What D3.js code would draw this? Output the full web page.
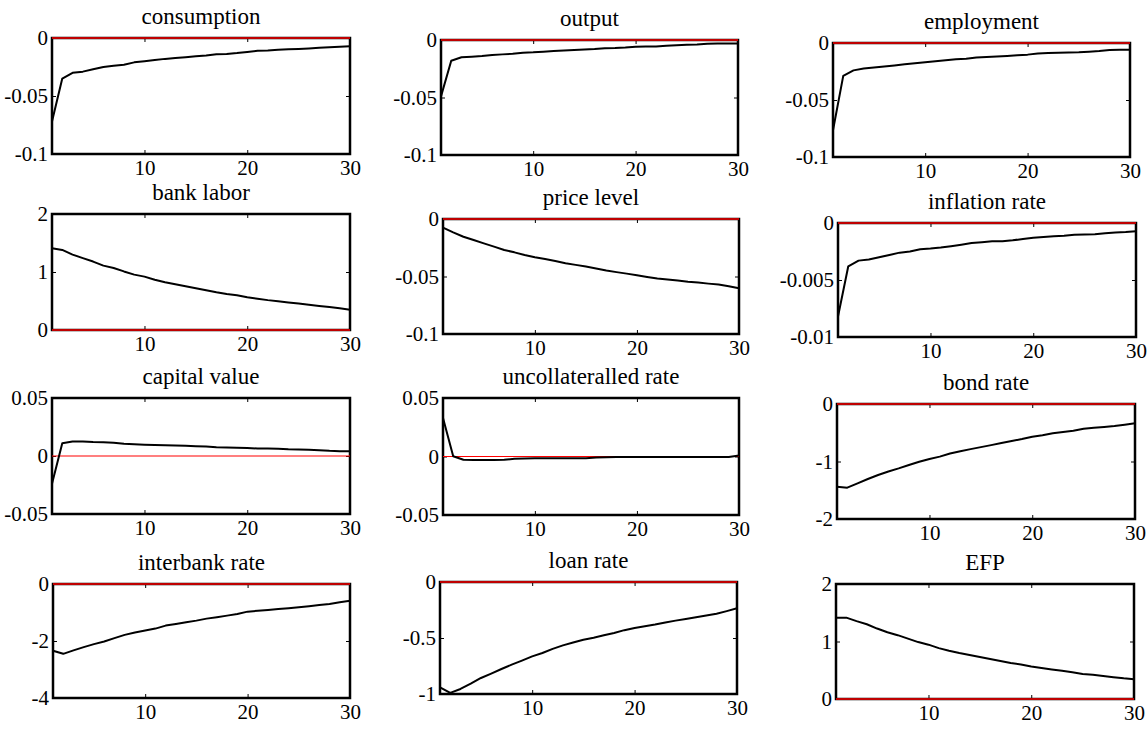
<!DOCTYPE html>
<html>
<head>
<meta charset="utf-8">
<script src="https://cdn.jsdelivr.net/npm/d3@7"></script>
<style>
  html, body { margin: 0; padding: 0; background: #fff; }
  svg { display: block; }
</style>
</head>
<body>
<svg id="chart" width="1148" height="729" font-family="Liberation Serif"></svg>
<script>
// ---------- data ----------
const periods = [1,2,3,4,5,6,7,8,9,10,11,12,13,14,15,16,17,18,19,20,21,22,23,24,25,26,27,28,29,30];
const xTickValues = [10, 20, 30];
const xTickLabels = ["10", "20", "30"];

const titles = ["consumption", "output", "employment", "bank labor", "price level", "inflation rate",
  "capital value", "uncollateralled rate", "bond rate", "interbank rate", "loan rate", "EFP"];

const consumption = [-0.072, -0.035, -0.030, -0.029, -0.027, -0.025, -0.024, -0.023, -0.021, -0.020,
  -0.019, -0.018, -0.0172, -0.0165, -0.0158, -0.015, -0.014, -0.0138, -0.013, -0.012,
  -0.011, -0.0108, -0.0102, -0.0098, -0.0094, -0.009, -0.0085, -0.008, -0.0075, -0.0072];
const output = [-0.049, -0.018, -0.015, -0.0145, -0.014, -0.013, -0.0125, -0.012, -0.011, -0.0107,
  -0.0102, -0.0096, -0.0092, -0.0087, -0.0082, -0.0078, -0.0072, -0.007, -0.0065, -0.0058,
  -0.0057, -0.0056, -0.005, -0.0045, -0.0042, -0.004, -0.0032, -0.0031, -0.003, -0.003];
const employment = [-0.0765, -0.0288, -0.024, -0.0224, -0.0215, -0.0206, -0.0197, -0.0187, -0.0178, -0.0168,
  -0.016, -0.0152, -0.0142, -0.0138, -0.0128, -0.0122, -0.0118, -0.0113, -0.0108, -0.0102,
  -0.0092, -0.0088, -0.0086, -0.0083, -0.0081, -0.0076, -0.007, -0.0062, -0.006, -0.0059];
const bankLabor = [1.41, 1.38, 1.30, 1.24, 1.18, 1.11, 1.07, 1.01, 0.955, 0.92,
  0.865, 0.825, 0.79, 0.755, 0.72, 0.685, 0.65, 0.62, 0.60, 0.565,
  0.54, 0.515, 0.495, 0.475, 0.455, 0.435, 0.415, 0.395, 0.375, 0.35];
const priceLevel = [-0.0075, -0.0116, -0.0154, -0.0183, -0.0212, -0.024, -0.027, -0.029, -0.0313, -0.0333,
  -0.0348, -0.0365, -0.0384, -0.0399, -0.0414, -0.043, -0.0448, -0.0462, -0.0475, -0.049,
  -0.0505, -0.0518, -0.0526, -0.0535, -0.0545, -0.0553, -0.0562, -0.057, -0.0585, -0.0603];
const inflationRate = [-0.0082, -0.0038, -0.0033, -0.0032, -0.003, -0.0028, -0.0026, -0.0025, -0.0023, -0.00224,
  -0.00215, -0.00203, -0.0019, -0.00175, -0.00168, -0.0016, -0.0016, -0.00152, -0.0014, -0.0013,
  -0.00122, -0.00116, -0.00112, -0.00103, -0.001, -0.00098, -0.0009, -0.00084, -0.0008, -0.00073];
const capitalValue = [-0.024, 0.011, 0.0125, 0.0125, 0.012, 0.0118, 0.0115, 0.0105, 0.0102, 0.0098,
  0.0095, 0.0092, 0.009, 0.0088, 0.0085, 0.0082, 0.0075, 0.0074, 0.0072, 0.0068,
  0.0065, 0.0064, 0.0063, 0.0058, 0.0055, 0.0053, 0.005, 0.0045, 0.0042, 0.0042];
const uncollateralledRate = [0.033, 0.0002, -0.0028, -0.0029, -0.0029, -0.0029, -0.0028, -0.002, -0.0017, -0.0016,
  -0.0016, -0.0015, -0.0015, -0.0015, -0.0015, -0.0008, -0.0006, -0.0005, -0.0005, -0.0005,
  -0.0005, -0.0005, -0.0005, -0.0005, -0.0005, -0.0005, -0.0005, -0.0005, -0.0005, 0.0008];
const bondRate = [-1.44, -1.455, -1.38, -1.305, -1.235, -1.175, -1.12, -1.06, -1.005, -0.955,
  -0.915, -0.86, -0.82, -0.785, -0.75, -0.715, -0.68, -0.645, -0.61, -0.57,
  -0.545, -0.51, -0.485, -0.465, -0.43, -0.415, -0.40, -0.383, -0.36, -0.335];
const interbankRate = [-2.34, -2.45, -2.33, -2.215, -2.11, -2.02, -1.9, -1.785, -1.70, -1.635,
  -1.565, -1.46, -1.40, -1.34, -1.285, -1.215, -1.165, -1.11, -1.05, -0.97,
  -0.94, -0.91, -0.88, -0.85, -0.815, -0.78, -0.74, -0.70, -0.64, -0.585];
const loanRate = [-0.94, -0.99, -0.955, -0.908, -0.857, -0.818, -0.777, -0.738, -0.702, -0.664,
  -0.634, -0.597, -0.566, -0.54, -0.515, -0.497, -0.476, -0.455, -0.43, -0.41,
  -0.395, -0.38, -0.362, -0.345, -0.33, -0.315, -0.3, -0.283, -0.26, -0.235];
const efp = [1.415, 1.415, 1.355, 1.30, 1.225, 1.16, 1.11, 1.05, 0.99, 0.945,
  0.885, 0.84, 0.80, 0.765, 0.73, 0.695, 0.66, 0.625, 0.60, 0.565,
  0.54, 0.515, 0.49, 0.465, 0.435, 0.42, 0.40, 0.38, 0.36, 0.345];

const yTickValues = [
  [-0.1, -0.05, 0], [-0.1, -0.05, 0], [-0.1, -0.05, 0],
  [0, 1, 2], [-0.1, -0.05, 0], [-0.01, -0.005, 0],
  [-0.05, 0, 0.05], [-0.05, 0, 0.05], [-2, -1, 0],
  [-4, -2, 0], [-1, -0.5, 0], [0, 1, 2]
];
const yTickLabels = [
  ["-0.1", "-0.05", "0"], ["-0.1", "-0.05", "0"], ["-0.1", "-0.05", "0"],
  ["0", "1", "2"], ["-0.1", "-0.05", "0"], ["-0.01", "-0.005", "0"],
  ["-0.05", "0", "0.05"], ["-0.05", "0", "0.05"], ["-2", "-1", "0"],
  ["-4", "-2", "0"], ["-1", "-0.5", "0"], ["0", "1", "2"]
];
const seriesList = [consumption, output, employment, bankLabor, priceLevel, inflationRate,
  capitalValue, uncollateralledRate, bondRate, interbankRate, loanRate, efp];

// ---------- layout (pixel boxes: left, top, right, bottom) ----------
const boxes = [
  [52, 38, 350, 154], [441, 40, 738, 155], [833, 43, 1130, 157],
  [52, 214, 350, 330], [443, 219, 739, 334], [838, 223, 1136, 337],
  [52, 398, 350, 514], [443, 398, 739, 515], [837, 404, 1135, 519],
  [53, 584, 350, 698], [440, 582, 737, 694], [836, 584, 1134, 699]
];

const svg = d3.select("#chart");
const FONT = "Liberation Serif";
const TICK_FONT = 21, TITLE_FONT = 23;

seriesList.forEach((series, i) => {
  const [l, t, r, b] = boxes[i];
  const yv = yTickValues[i];
  const x = d3.scaleLinear().domain([1, 30]).range([l, r]);
  const y = d3.scaleLinear().domain([d3.min(yv), d3.max(yv)]).range([b, t]);
  const g = svg.append("g");

  const fmtX = d => xTickLabels[xTickValues.indexOf(d)];
  const fmtY = d => yTickLabels[i][yv.indexOf(d)];

  g.append("g").attr("transform", `translate(0,${b})`)
    .call(d3.axisBottom(x).tickValues(xTickValues).tickFormat(fmtX).tickSize(-4).tickPadding(6));
  g.append("g").attr("transform", `translate(${l},0)`)
    .call(d3.axisLeft(y).tickValues(yv).tickFormat(fmtY).tickSize(-4).tickPadding(4));
  g.append("g").attr("transform", `translate(0,${t})`)
    .call(d3.axisTop(x).tickValues(xTickValues).tickFormat("").tickSize(-4));
  g.append("g").attr("transform", `translate(${r},0)`)
    .call(d3.axisRight(y).tickValues(yv).tickFormat("").tickSize(-4));

  g.selectAll(".domain").remove();
  g.selectAll("g").attr("font-family", FONT).attr("font-size", TICK_FONT);
  g.selectAll(".tick line").attr("stroke", "#000").attr("stroke-width", 1);
  g.selectAll(".tick text").attr("font-family", FONT).attr("font-size", TICK_FONT).attr("fill", "#000");

  g.append("rect").attr("x", l).attr("y", t).attr("width", r - l).attr("height", b - t)
    .attr("fill", "none").attr("stroke", "#000").attr("stroke-width", 2.5);

  const y0 = y(0);
  const edge = Math.abs(y0 - t) < 1 || Math.abs(y0 - b) < 1;
  g.append("line").attr("x1", l).attr("x2", r).attr("y1", y0).attr("y2", y0)
    .attr("stroke", "#ff0000").attr("stroke-width", edge ? 1.6 : 1.1);

  const line = d3.line().x((d, k) => x(periods[k])).y(d => y(d));
  g.append("path").datum(series).attr("d", line)
    .attr("fill", "none").attr("stroke", "#000").attr("stroke-width", 2)
    .attr("stroke-linejoin", "round");

  g.append("text").attr("x", (l + r) / 2).attr("y", t - 14)
    .attr("text-anchor", "middle").attr("font-family", FONT).attr("font-size", TITLE_FONT)
    .attr("fill", "#000").text(titles[i]);
});
</script>
</body>
</html>
